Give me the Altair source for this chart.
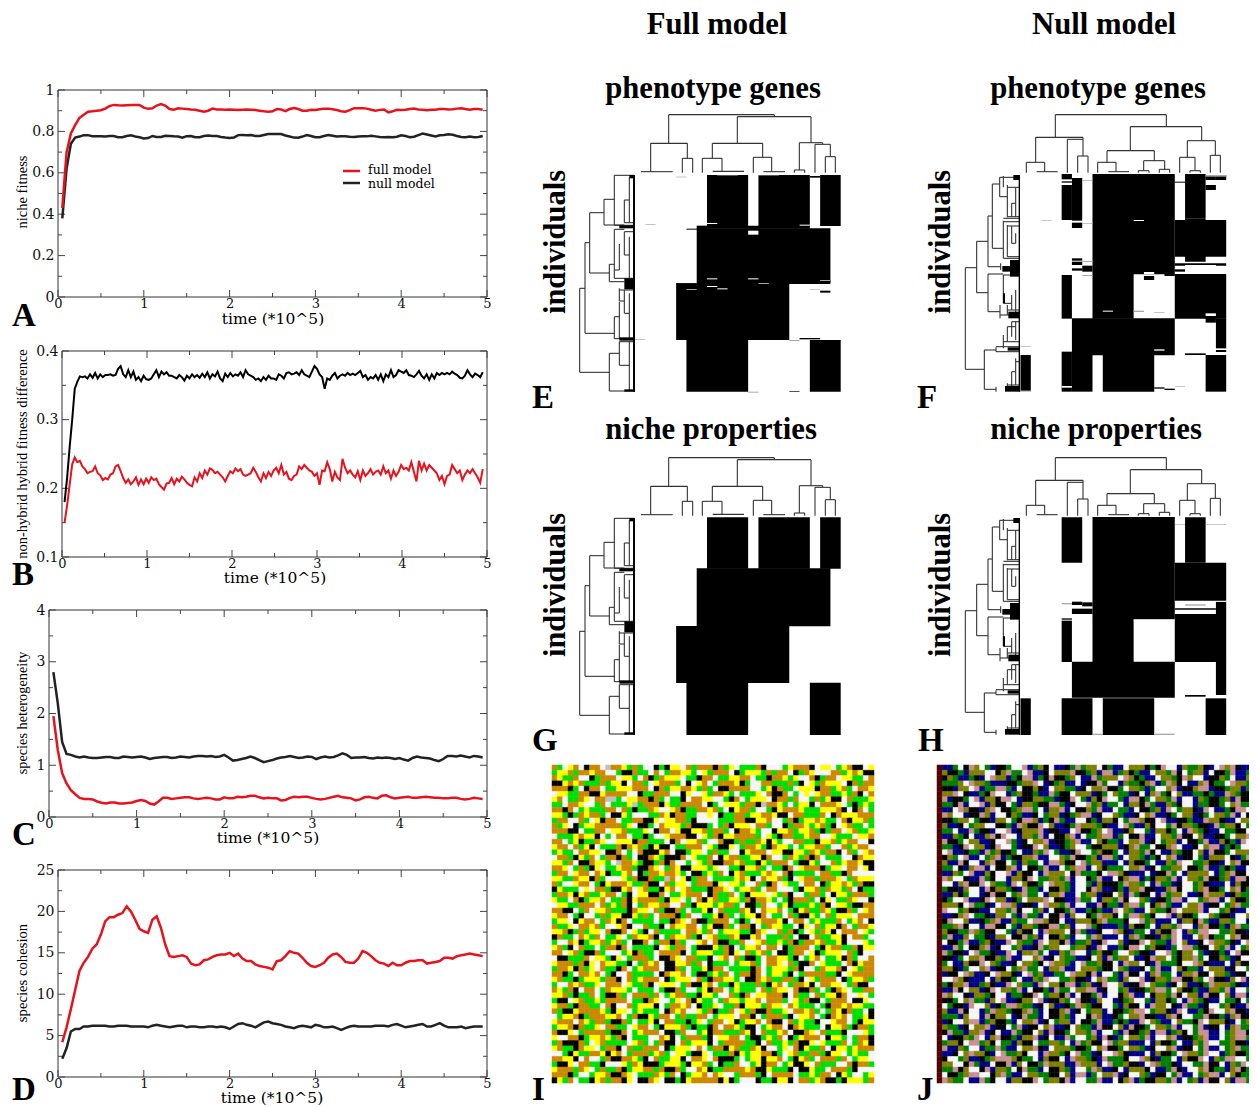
import altair as alt
import pandas as pd

W, H = 1241, 1099
SERIF = "Liberation Serif"
AXF = "DejaVu Serif"
RED = "#e8121c"
BLK = "#222222"

# ---------- time series ----------
A_full = [.43,.70,.79,.83,.865,.88,.895,.897,.90,.902,.91,.922,.928,.926,.925,.926,.927,.928,.928,.915,.909,.912,.925,.932,.925,.908,.905,.912,.91,.908,.906,.905,.90,.895,.90,.91,.906,.906,.905,.906,.905,.903,.905,.906,.905,.903,.90,.897,.895,.897,.908,.906,.898,.908,.913,.908,.90,.90,.905,.903,.907,.91,.91,.907,.903,.897,.895,.903,.912,.912,.912,.91,.905,.90,.904,.906,.892,.897,.904,.903,.905,.908,.91,.906,.905,.902,.905,.905,.908,.908,.906,.907,.91,.912,.908,.905,.908,.908,.905]
A_null = [.38,.62,.74,.77,.775,.782,.782,.777,.776,.777,.775,.778,.778,.772,.772,.778,.781,.775,.772,.766,.768,.778,.773,.773,.779,.778,.776,.775,.77,.777,.778,.772,.772,.778,.78,.778,.778,.773,.77,.768,.77,.782,.783,.782,.783,.778,.778,.783,.787,.788,.788,.787,.78,.775,.77,.769,.775,.782,.778,.772,.772,.778,.783,.779,.775,.777,.776,.774,.773,.775,.777,.776,.779,.776,.773,.772,.773,.772,.774,.781,.778,.772,.774,.782,.79,.785,.78,.775,.781,.783,.786,.784,.778,.773,.772,.775,.772,.773,.778]
B_null = [.18,.215,.26,.30,.345,.355,.363,.362,.363,.36,.366,.361,.368,.36,.366,.362,.365,.365,.366,.364,.365,.374,.378,.366,.362,.372,.362,.37,.358,.362,.356,.364,.359,.358,.36,.366,.372,.362,.37,.366,.369,.364,.364,.362,.36,.365,.362,.357,.364,.36,.366,.362,.365,.361,.367,.362,.369,.36,.366,.363,.37,.36,.356,.367,.362,.368,.363,.366,.364,.369,.362,.372,.366,.364,.362,.358,.36,.356,.362,.358,.364,.36,.36,.358,.366,.364,.36,.368,.369,.366,.367,.369,.365,.372,.366,.364,.362,.37,.378,.374,.366,.362,.345,.36,.358,.364,.368,.36,.364,.366,.364,.368,.365,.367,.365,.368,.371,.362,.365,.358,.362,.36,.365,.358,.366,.356,.366,.362,.372,.362,.365,.372,.37,.368,.372,.365,.364,.362,.366,.371,.364,.36,.366,.358,.366,.36,.368,.365,.368,.366,.368,.366,.37,.367,.365,.361,.36,.364,.372,.366,.362,.367,.365,.362,.369]
B_full = [.15,.175,.205,.235,.245,.238,.24,.232,.228,.222,.224,.225,.232,.222,.219,.212,.215,.213,.22,.222,.232,.234,.225,.215,.208,.213,.206,.21,.216,.205,.213,.206,.214,.208,.216,.212,.214,.206,.202,.198,.207,.208,.215,.206,.214,.21,.217,.213,.208,.205,.203,.216,.21,.222,.215,.226,.22,.229,.227,.222,.224,.22,.216,.21,.218,.225,.222,.229,.225,.228,.22,.218,.22,.222,.23,.224,.216,.21,.222,.215,.224,.218,.226,.23,.222,.234,.22,.224,.214,.212,.218,.22,.232,.228,.234,.23,.226,.224,.218,.222,.205,.226,.225,.238,.228,.21,.224,.216,.212,.243,.23,.222,.226,.22,.216,.225,.212,.226,.218,.222,.228,.22,.224,.226,.22,.232,.222,.226,.214,.226,.218,.224,.234,.228,.23,.226,.238,.224,.21,.24,.226,.236,.226,.234,.23,.226,.222,.212,.218,.206,.218,.22,.234,.228,.222,.226,.212,.22,.226,.222,.228,.222,.216,.208,.228]
C_full = [1.95,1.3,.85,.65,.52,.44,.37,.35,.35,.34,.30,.275,.26,.28,.28,.26,.26,.27,.28,.31,.33,.31,.26,.24,.30,.37,.37,.35,.36,.37,.38,.38,.36,.35,.36,.37,.36,.34,.34,.38,.36,.36,.39,.38,.39,.41,.41,.38,.36,.37,.36,.36,.32,.33,.37,.39,.38,.39,.39,.37,.35,.34,.35,.37,.39,.41,.38,.37,.36,.32,.34,.38,.39,.37,.36,.41,.42,.38,.36,.37,.38,.39,.37,.37,.38,.39,.38,.37,.37,.36,.36,.37,.37,.35,.34,.35,.37,.36,.35]
C_null = [2.8,2.2,1.45,1.22,1.2,1.17,1.15,1.17,1.15,1.14,1.14,1.15,1.16,1.16,1.14,1.14,1.17,1.16,1.15,1.16,1.17,1.15,1.12,1.14,1.15,1.16,1.16,1.14,1.15,1.17,1.16,1.15,1.17,1.18,1.18,1.17,1.18,1.16,1.17,1.2,1.15,1.09,1.10,1.12,1.14,1.17,1.14,1.10,1.06,1.08,1.10,1.13,1.15,1.16,1.18,1.16,1.14,1.15,1.17,1.16,1.12,1.15,1.17,1.15,1.16,1.19,1.23,1.2,1.14,1.15,1.15,1.16,1.14,1.13,1.15,1.14,1.15,1.14,1.12,1.14,1.11,1.09,1.14,1.17,1.15,1.14,1.13,1.10,1.08,1.12,1.18,1.18,1.17,1.19,1.17,1.15,1.18,1.17,1.15]
D_full = [4.2,6.0,8.2,10.5,12.8,13.8,14.5,15.5,16.0,17.2,18.8,19.3,19.3,19.6,19.8,20.6,20.0,19.0,17.9,17.6,17.4,19.0,19.4,18.0,16.0,14.6,14.5,14.6,14.7,14.5,13.7,13.5,13.6,14.1,14.2,14.5,14.7,14.8,14.8,15.0,14.6,14.9,14.3,14.0,14.0,13.6,13.4,13.3,13.2,13.0,14.0,14.1,14.6,15.2,15.0,14.9,14.4,13.8,13.4,13.3,13.5,13.8,14.4,14.8,14.9,14.5,13.9,13.8,13.8,14.3,15.2,15.0,14.6,14.1,13.8,13.7,13.4,13.8,13.5,13.5,13.8,14.0,14.0,14.1,14.1,13.7,13.8,13.9,14.0,14.4,14.4,14.3,14.6,14.7,14.8,14.9,14.8,14.7,14.6]
D_null = [2.2,3.5,5.5,5.8,5.8,6.1,6.1,6.2,6.2,6.2,6.2,6.1,6.1,6.2,6.2,6.2,6.1,6.1,6.1,6.1,6.0,6.2,6.3,6.2,6.1,6.0,6.1,6.2,6.2,6.0,6.1,6.1,6.0,6.0,6.1,6.1,6.0,6.1,6.0,5.8,6.1,6.4,6.5,6.3,6.2,6.0,6.3,6.6,6.7,6.5,6.4,6.3,6.1,6.0,5.9,6.1,6.2,6.1,6.0,6.3,6.2,6.0,6.0,6.1,5.9,5.7,5.9,6.1,6.2,6.1,6.1,6.1,6.1,6.2,6.2,6.2,6.1,6.3,6.4,6.2,6.0,6.1,6.2,6.3,6.4,6.1,6.1,6.3,6.5,6.2,6.0,6.0,6.0,6.1,5.9,6.0,6.1,6.1,6.1]
STEP_05 = [round(.05 * (i + 1), 3) for i in range(99)]
STEP_03 = [round(.03 * (i + 1), 3) for i in range(165)]

# ---------- dendrograms: (pos, from, to) ----------
EG_top_h = [(44,416,733),(50,622,843),(130,362,472),(175,457,488),(215,333,428),(130,547,698),(175,517,576),(214,548,642),(172,670,725),(215,700,765),(128,808,878),(133,855,901),(170,886,916),(210,793,824)]
EG_top_v = [(416,44,130),(733,44,50),(622,50,130),(843,50,128),(362,130,215),(472,130,175),(457,175,218),(488,175,218),(547,130,175),(698,130,172),(517,175,218),(576,175,213),(670,172,218),(725,172,215),(808,128,210),(878,128,133),(855,133,218),(901,133,170),(886,170,218),(916,170,218),(793,210,218),(824,210,218)]
EG_left_h = [(565,149,165),(817,149,238),(428,165,179),(700,165,253),(338,179,222),(519,179,238),(298,222,253),(375,222,283),(226,253,313),(376,253,313),(300,283,298),(368,283,313),(493,238,253),(545,238,283),(388,253,283),(535,253,313),(395,283,313),(465,283,298),(510,253,268),(603,268,283),(570,268,313),(640,283,298),(650,253,268),(716,253,313),(760,238,268),(873,238,313),(725,268,313),(796,268,298)]
EG_left_v = [(149,565,817),(165,428,700),(179,338,519),(222,298,375),(253,226,376),(283,300,368),(298,232,368),(238,493,545),(253,388,535),(268,432,510),(283,395,465),(298,410,535),(268,565,603),(283,570,640),(298,580,715),(253,650,716),(268,605,716),(238,760,873),(268,725,796),(298,725,870)]
EG_blob = [(283,535,315,568),(268,712,315,722),(268,376,315,385),(298,225,315,235),(309,225,315,875),(283,868,315,875)]
FH_top_h = [(44,421,754),(80,646,860),(112,362,504),(118,457,504),(168,488,519),(187,334,389),(215,365,428),(152,576,718),(187,548,603),(215,580,642),(182,686,749),(212,670,702),(208,733,764),(122,817,901),(172,794,840),(212,825,856),(166,886,916)]
FH_top_v = [(421,44,112),(754,44,80),(646,80,152),(860,80,122),(362,112,187),(457,118,218),(504,112,168),(488,168,218),(519,168,218),(334,187,218),(389,187,215),(576,152,187),(718,152,182),(548,187,218),(603,187,215),(686,182,212),(749,182,208),(670,212,218),(702,212,218),(733,208,218),(764,208,218),(817,122,172),(901,122,166),(794,172,218),(840,172,212),(825,212,218),(856,212,218),(886,166,218),(916,166,218)]
FH_left_h = [(503,151,185),(808,151,208),(424,185,219),(578,185,219),(348,219,232),(500,219,257),(252,232,254),(445,232,265),(522,219,265),(635,219,255),(750,208,243),(868,208,243),(232,254,315),(290,254,277),(262,277,315),(310,290,302),(350,277,315),(355,265,315),(365,265,315),(378,277,315),(430,290,302),(475,265,315),(470,277,315),(525,265,315),(610,265,290),(630,277,315),(645,255,315),(665,290,315),(680,277,302),(725,265,315),(740,243,315),(755,243,315),(785,302,315),(815,290,302),(855,277,315)]
FH_left_v = [(151,503,808),(185,424,578),(219,348,500),(232,252,445),(219,522,635),(208,750,868),(254,232,290),(265,228,262),(277,255,352),(290,310,350),(302,262,350),(265,362,475),(290,378,430),(302,400,430),(277,375,470),(257,490,510),(265,525,610),(290,585,630),(302,570,640),(277,615,645),(255,615,655),(290,665,710),(302,665,720),(277,680,725),(265,705,745),(243,742,755),(302,775,855),(290,815,860),(277,850,870),(243,860,875)]
FH_blob = [(295,225,315,240),(285,480,315,530),(262,498,315,515),(280,635,315,655),(278,742,315,752),(270,858,315,875),(264,580,270,610),(311,225,315,875)]

# ---------- binary matrices: (row0, row1, col0, col1) ----------
E_black = [(225,378,7,11),(225,378,12,17),(225,378,18,20),(385,552,6,19),(377,390,6,7),(377,386,7,17),(550,720,4,15),(719,875,5,11),(720,875,17,20),(228,233,17,18),(386,389,5,6),(572,578,18,19),(540,546,16,19),(714,718,16,18),(873,875,15,16),(550,553,4,6)]
E_white = [(369,372,7,8),(374,377,16,17),(392,404,11,12),(535,538,7,8),(535,538,11,12),(550,552,12,13),(558,561,7,8),(565,568,8,9),(568,570,5,6),(223,226,8,10),(222,226,12,14)]
E_grey = [(875,878,11,12),(718,720,0,1),(230,232,4,5),(373,375,1,2),(720,723,15,16),(540,543,18,19),(568,570,17,18)]
F_black = [(222,238,4,5),(244,248,4,5),(255,360,4,5),(234,362,5,6),(222,523,7,15),(522,656,7,11),(245,248,15,16),(222,355,16,18),(225,240,19,20),(228,240,18,19),(255,270,18,19),(360,470,15,20),(355,485,16,18),(368,384,5,6),(475,482,5,6),(485,495,5,6),(497,515,6,7),(505,512,5,6),(490,497,15,20),(508,515,15,16),(522,656,15,20),(525,656,4,5),(528,540,12,13),(522,528,14,15),(655,766,5,15),(655,745,19,20),(750,756,19,20),(640,668,18,19),(765,875,0,1),(755,875,4,5),(765,875,5,7),(765,875,8,13),(765,875,18,20),(862,866,13,14),(866,870,14,15),(760,765,16,18),(852,855,11,12)]
F_white = [(250,253,4,5),(858,863,4,5),(360,363,11,12),(632,635,8,9),(640,648,18,19),(748,752,13,14),(516,522,12,13),(872,875,0,1),(495,498,16,19)]
F_grey = [(360,362,2,3),(738,740,0,1),(240,242,6,7),(370,372,6,7),(483,486,6,7),(525,528,6,7),(632,636,11,12),(636,638,13,14),(858,860,15,16),(225,230,18,20)]
G_black = [(223,377,7,11),(223,377,12,17),(223,377,18,20),(376,550,6,19),(549,720,4,15),(719,876,5,11),(719,876,17,20)]
H_black = [(223,359,4,6),(222,529,7,15),(528,657,7,11),(223,359,16,18),(359,473,15,20),(476,486,5,6),(478,490,6,7),(497,513,5,7),(476,513,19,20),(496,500,15,19),(513,657,15,20),(533,657,4,5),(526,530,4,5),(656,764,5,15),(656,756,19,20),(766,876,0,1),(766,876,4,7),(766,876,8,13),(766,876,18,20),(756,761,16,18)]
H_white = [(474,476,15,20),(530,533,11,15)]
H_grey = [(244,246,15,16),(244,246,18,20),(480,484,4,5),(872,876,7,8),(872,876,13,15),(484,488,16,18)]

# ---------- colour grids ----------
I_rows = """
ogwyo wkoow sooyg ogwwk gkyyw ogooo kogyw gggok wwwgy oookw yywgy okkwy
gyyog ooyoo wwgkk oggwo wgooy ygwyg ooowk gyyyg ogoow kgoyw wwoog yoykk
oyggo wwkgo oowyy gwokg oyyyw ggkoo wggyy oowgg kooyg ywwok goowy yggwo
kkyoy ogggo gyykw oogwy ooogw kwyow goooy kgwwo ogggo gkwyg oyyyw kogoo
oookg wkoow ggyyy ooowk ogyyo oygog wkkoo oowwg ykogg wyyyk oogyo gwooy
wyygg ookky oooow wkggo oowwk ywwyg ooygw gggyw okkow gwywy ooggy gokwo
yowgg oywoo ssgwy yooko gwggk wooyy wwgko wgyyy wkoog owwgo gykkw ogggy
ggwoo ywwgo wgggy sgooo kyggo ooowk gwyyy gooks ooygw gyykw oooyw gkgyg
ookow gyggg oowog kggoy wwyok ggooy ogwky oogww gkyoo oyggg yyyok wkowg
yygkg oyoog wkkyg wwwgg oykoo ggwwy wkggo ogyyo oykkw ooggg owkoy yyooo
gooww ogwyk oowgg ookky wyyoo gkwww wgggo okkyy owwgo kgyyo yggwo kyyog
ogywk gyyoo ooogy wkkgw oyyyg okkkg wgoky yywoo gwwkg ooygy ogkwy oggwg
oookk wggoo wyyog ggywk oowyk kyyog oogwk ooygw wkyyo gyyog kgoow yoggy
wgggy oyykw gwoow ggkgw wyooo kkwyg okyyo ooogw ygkoo ggyoo wwygg gwyyo
oowgy kggoy wwyyy koogg gwkow yyogw wokkg oggoy kygww ooggk yyogy oowwk
yoowo gykwg ggoko yogky kkwgg ooowy gkkyw gooyg koyyg wgyyo ogwwo gyoow
gyggw ooyyw kkowg wokkk yowkk gyywg oggww kyooo wyykk yygoy gookw ogwyo
woogk ygowg ookog wkkoy gkkko wyggo wkyoo ggyyk owwgo ygoko wgggw wkoyy
yygow kkoyy gwsoo ygkkg okoww gwygo kkooy oggky gooow gkkyg wwogy ooykk
ooywg ogkyw ggyoo gkkoy wgoyk kyyyg ywwgg kyyog wggko wyooo kgyyw oowyk
goowy oowoy kggyo wkgoo yooyg wkkgy gowky ogggy oywok ggggw ooggk owwww
yyggo yykog wwwyg okkog gsowy kgoow ggggy oykwo yyogk wyoog oooyw goyyy
ogwwy oowgk yoooy ggokk wogyy wgooo kywyy gwwog kowyg gwoow kgyyo ygokk
kyggg wywoo gkkyo wyogg kyowy ogggk ooywg yyogw oowww gkyyo goyyg owkgg
gooyk yoggy oowgk wyykk owggy ooowk oggow gkyyy wygok wwgoo gwkyy gooog
yggwo kgyyo wggok yoooo gkyyw gwoky oggyy gokoo ygwgk ooogw kywgg oywwk
wyygg ooowo gygok wgoyy oowwo gkyyy gyoog wkkgo wwgyk gggyg okwyy gkkoo
ookkw gowyy ogggk oyywo gkkog wggyk woggg oykwo yyowg kyogg oygkk ogwyo
yoowg kwwgo gyykk ygogw oookg owwgg ykogw gyyko wggwo gkkyg wogyy ywooo
gyywk yoowg oykow ggggw ggkoy wokkg ooowg kgwyo ooykw oowgy gggow gyowk
oggyw ooyog wwyok wwogg kwoyy oowgy kkogw ookwg oyygg wkywo gyyko wgooy
yyokg ogyyw okkow ygkwo ggggw ooygo wgyyy ggkoy wwogo kgwyg oykwo oowyg
koggw oygow ggywg oyyok wgoyy ogkwy oggoy kkyow gggog wkkwo ggyyk woogw
gwwoy kgyyo gyogw kkowg ookog wwyow okkgg owwyo ggygo kgooy oggyk wwwyg
yogkw oggwg ookow ggggk wygoo wgkkk ygokw gyyow oowkg ooowg kyoog gokyy
oowyo gkkog wwwgy koggw ooook wgyyy ggoky wogyo gwkkg oowyk gyyyw ogkww
wkkgg gowyy gkywg ooogw kkoyw ooggk wyowo gkkgw ooyyg kwgyo wggyk ogwwo
yooog okywo yyggk wgoyo wkkyy ogowk gggwg yyogw ooywo gkkow ygggw okyoo
gooyk ogywo ggkow gyooo wkkog wggyk oowgg ggkow gyyyg okwwg oyyok wygoo
ookgw ooyow gkwwo ggggw koyyo wgkkg ygowg ookow gyygk wgooo oggkw yoooo
yoggk gyyyg ookwo gyooo wkgyy ywogk ooyyg wkkoy oggoo gkwyg ooowk gyyog
gwwoy oggyw ooowy ggokw yyywg okkyo wggky gggog kyowg ooykw ooyyw gokkw
oygok woowg oyyyg wgggw gkkog wwgyk oowgy gggwo goyyw okkog wgkoy wggoo
yyogk ggowg kkogw ooogo wgyoo ggkyy gwwog kowyy oookw oggwo gyyko wwywg
gkkwy oggyg oooow ggkoy wwgyw okygg wgoyy gyyow ooogw ygokk wgooo wkkyw
yoogk ooggw okwwo gyyyk wgooy owkgg ywggo kyyyg oyywo ygggw gkooy oyygg
ogkky ooooy gkyyw gyggg wkoyo wwygo kggow ygokk oggyw ooyog wgoyk oggwk
wgyyo kgooo yyowg okkyg oowgo ggoow gyyyw ookwg ooogk wyyow gkoyo wggyk
yooow oygoo gkkog wggyk woogg kgywg oowyk gyyow okkwo gyggk wwyoo wgkyy
gyyok oggyw ooggw yoowg kyyyo gkggk owooy gkkwg yoowk oyggg wkyyo gkoog
okkyw goooo gkkow gyooo wkkgo wwgyk ooggg oykwo ggyow kkoyw ogggk wwwyg
ywwoo kgyyo ygokw gggww oykwg ooogk wyyoo wgkkg ygowk gyooo wkyyg wgook
gokkk ogwyo ggggw yogwg okkwo gyyyk wgooo oggkw oggyg okkyw ygggo wgoyk
yoggk oyywg ookwo ggooo wkgyy ywowg ookyo ggoyk wwgyw okygg owkyy gyooo
wwgky ggooy kyowg ooogy ogwyy gkkyw gggok ygyyo okgwy oggoo gkyyw gyggw
ooyyk wowwg okkoo ygkwo ggyyk wooyw okkkg wgyyk yyowg kyogw ooogo wgyyw
gkkyw ooggk wwwyg oykkk gyyyg kyyog wkggo wwgyk oowgy kkywo gggww okoog
yooog oywgo ggokg yyoog okkog wwoyk ggooo oyokk ygggk wkkyg gwooo gkwww
oookg wwgyy okkoy wgggo ygowk gyyow oywwg ooogk woooo wggyg oowky gwwgy
kygow ggkyo gooky wkkoy wkkgk yoooo okykg wwwkg gkyyk woogy okkgk yyygo
""".split("\n")
J_rows = """
nngwk powgn kkgww pngok wnnkg pgoow kgnnw oookg kpwwn oggok nwpop knnw
okkgn oooww kopgg wpnnk wooop kkgon ppngo kgnnw oogpk wgoon wkkgp nngk
kognn gknwp oongk ppngk pkkgo wnnpg ooowp okgnn woogk powwn kkogw nnog
gggow poogn nnkkg oopwn kgonn wnkkp gwwno ggkop ngpok wnnop kggwp oogn
kknoo wpngg ppgnw kkokn woogg nkwoo pkkgw oogng wwopn kkopp nkkgo ongw
oopwk nngkp wwngo kkgnn pgkkw ooonk gwogg nkwno pgkwo nnggk gnnpo gkkn
pnkkg wpnoo kppwn kkoog gnkkp wgnok pwwgn ppkgw oogpn wwnog kkgon pkkg
ggkpn wwpno kkwgn oogkk ppgnk wwpgo nggwn ookpg nnogk wwngg kkgwo pggn
nnwpo kknop wkkgo ppgwn oopnw kkogp nnwgg nwkkg onpwg ooknp wnngk ppwo
powwn kkpon wwkog nnkwg oonkg oppnk wwogn nkwop nnkgw oonkg woogp nwkg
kkgoo wgkkn oowgk ppong kpgnn wwkgn ookwg ppokk wpnnk kgnnp ooknn woog
onnkw gooww kkgnp okkpw onnkg pooog knnwp gnnok wwgpk oogkk npgoo kwgp
ggwnn pgkkn wwpnk ooopn kknnw pkkgo wpnnk owwgn ookgw npogk nnwgg kkwo
nnogk wnnop kpwwn oogpn wkkop nwggo ppngw kkpnn woogp kkwon nkkgw oopn
pkkgw oonnk wwpgn kwoop nkkgo pnnwo kggnw oopnk wgoon wkkgp nnokg npww
ggnkp woonk pwwgn kkpwo nnkgo wwgkk ooonk opggw kkopw nnkwo ppngk gwwn
wpnnk ggnpg okkgw nnogp wgnnk pwwgo kkgwn oogpk wnnog kkwon pkkgw ooon
kogwp nnwgo pngkk oopnn wwogp kkgon ppgnw oogng kwopn kkwgn ooowk ngpn
onnpk wwnop kkwgn oggwn ppokk wpgoo nnnwn okkgw nnogp wwggo kknwo pkkn
ggwkn oppnw kkopn wkkgp nnwgo ppnwo kgggw oopnk wggoo wkkgp nngkg nnwo
nnogw pnnok wwpno kkwnp ooowk pgggk wppok nnnwn kkpgw noooo wngop kkww
powwk nnpgk wwnoo kpwgg oogpn wwkgp nnwko ppngk oogpn woogp kkgon ppkg
wwnop kkpwo ggnpw okkgw poogn wwgno kkkgp oogwn pggnk wwgok nnnwn okkg
gkkno wwnpk oogkn pggnw kkogn wwkpo nnkgn oopkk nnopk wwgop kkgwo pkgg
nnokg wwnkp kkwgo pggwn oopnn wgoon kkwon pgkkw npgoo wnnkp ooonk oggn
kgwwp nnkpw oonkg wooop wkknn pggwn oogpk wwogn kkgpp nwwgo ppnwo kkgn
oookw pggkn wppon kknwp oogpn wwnnp kggno ppgwk opgnn woopn kkwgo pggw
pwwgo kknnw oogpk wwgon wkkgp nngkg nnpwo gnnwo ggkpw ooopn wwgok nnwg
nnkop wggkn oowgn pggnw kkpno wwkgp ookwg ppogk wwpno kkgww ogkkn wwog
kpwwo nnkgo pnnog gwppo kkwnn oooko pgggk wwpgo nnnwn ookpg nnoog wwng
ggopk wwnpp kkwgn oogkk ppgon wwpgk nnngn okkgw noogp wwnop kkgno pggn
okkgg pogkk wwgno kkwnp ooowk pgnnk wwpok nggwn okkpw nogpp wwggo kknw
gpnno wggkn oowkk pgonw kkogn wwgpo nnnwn opgkk nogpw nnwop kggwo pkkn
wkkgp nngok nnpwo ggnpw ookpn ggonk pwwon kkpwo ggnpw onnkw poogk nwpg
nnpgw kkopn kwwgo nnkpg oowwg ooknp wnngk ppwgo kkngw ppgkk wogpn wgoo
pgkkn wpggk nnpwn oopgw nnogp wwngo kkgww ogkkn wwpgk oowgn kkgnw pkkg
kkngw oopkk ogpnn wwopn kwogg nnkwo npgoo wnnkp oowgk oopgw kkogn kwwo
gwnno kkpwo gnnkw oogkw poogn wpggo kkwnp oowkn pgggk wwpok nnnwn okkg
ookng wwopn kkwgo pggwn oopnn wooog kkwog nnkwg pnnwo kggnw ooonk wwgp
nkkwp onnkw pookn wpgon nggwp ookpn wwgnp kkwno pggwn oopkk woogn kkwg
wwpok nnnwn okkgw nnogp wwggo kknwo pggno wwpnk oogpp kkogw pkkno wpng
gkoop nngok nnpwo ggnpw ookpp ngonk pwwon kkpwo ggnkw onnkg pooog knnw
nnpkw oonkp woogp nwkkg npggw ooppn kwwgo nkkgo ppgwo kkgnn oogpn wwgo
powwk noogk wwngg kkpwg ookpn wkkgp nwwko pnnwk oogpk woonp kkwon ppng
kkgwo pggno wpnnk oowpn kkogw pkkno wwnkg owwgn ookgw npogk nnwgg kwgp
wgkkn pwwon kgppo ggnkw onnkg pogkk wwgno kkwnp oowkn pggnk wwgok nnpw
onnpk wwngp oogkk opgnw kkopn kwgoo nwkkg oppwg ooknp wnngk pwwop kkng
gggno wwnpk oownk pggnw kkogn wwkpo nnkgw oopkk nnopk wwggp kkgno pkkn
nkwwo ppngo kkgnw oopnk wgoon wkkgp nngkg nnpwo gnnwo ggkpw oookn wgoo
oggnk woopn kkwgp nkkwo pnnkw oggnp kkwon pkkgw oogpn wwgpn kkwno pggn
kpggn oopnk wnnpg kkwon pkkgw oogpn wwgnp kkgon ppngo kwgpp nnwgo ppkw
wnkko gpwno pkkgn oopnk wnnpg wwgon pkngw oogpn wwopn kkgop nnwgo ppgw
gookw ppgok wggno kkwgg oogwn pgokk wpgoo nnnwn okkgw nnogp wwggo kknw
pnnog wwngg pgnnw oopkn wooog kkgwo pkkgw oognk wwopn kkwgp nnwgo pggw
nnkwo pookn wpggo kwwnp oogkw pggnk wwpok nnnwn okkgw poogp wwngo kkgw
kwwgo nnkgo pppok ggwno kkwnp oogkn pgggk wwpok nggwn okkpw nogpp wwgo
oowwk pgnnw kkpno wkkgp ooonn pooon wpggo kknwp oggkn wwggp kkwno gpww
ggpko wwkpn oogwk pggnw kkogn wwgpo nnkwn oookw nngpk nwwop kggno pkgg
wkkgo ppwwk opgnn woogg kkwon ppngw oopnk wwogn kkwgp nnwgo ppnwo kggp
poggw nnpgk wwnoo kkpwg ookpn wwggp nnwko pngkk oogpn wgonp kkwon ppgg
""".split("\n")
I_colors = {"y": "#ffff00", "g": "#00e000", "o": "#cc8800", "w": "#f6f6f6", "k": "#000000", "s": "#c0c0c0"}
J_colors = {"n": "#000088", "g": "#008000", "o": "#808000", "p": "#c89090", "w": "#f6f6f6", "k": "#000000", "r": "#500000"}

one = pd.DataFrame({"a": [0]})
layers = []


def P(v):
    return v - 8


def text(s, x, y, size, font=SERIF, weight="normal", angle=0, align="center", baseline="alphabetic", color="black"):
    layers.append(
        alt.Chart(one).mark_text(text=s, font=font, fontSize=size, fontWeight=weight, angle=angle,
                                 align=align, baseline=baseline, color=color)
        .encode(x=alt.value(P(x)), y=alt.value(P(y)))
    )


def lin(dom, rng):
    return alt.Scale(domain=list(dom), range=[P(r) for r in rng], nice=False, zero=False)


def ticks(xs, ys, xv, yv, x0, x1, y0, y1, ln):
    bx = pd.DataFrame({"v": xv})
    by = pd.DataFrame({"v": yv})
    for a, b in [(y1, y1 - ln), (y0, y0 + ln)]:
        layers.append(alt.Chart(bx).mark_rule(color="#444", strokeWidth=1).encode(
            x=alt.X("v:Q", scale=xs, axis=None), y=alt.value(P(a)), y2=alt.value(P(b))))
    for a, b in [(x0, x0 + ln), (x1, x1 - ln)]:
        layers.append(alt.Chart(by).mark_rule(color="#444", strokeWidth=1).encode(
            y=alt.Y("v:Q", scale=ys, axis=None), x=alt.value(P(a)), x2=alt.value(P(b))))


def panel(x0, x1, y0, y1, ydom, ymaj, ymin, series, width):
    xs = lin((0, 5), (x0, x1))
    ys = lin(ydom, (y1, y0))
    frame = pd.DataFrame({"x": [0], "x2": [5], "y": [ydom[0]], "y2": [ydom[1]]})
    layers.append(alt.Chart(frame).mark_rect(fillOpacity=0, stroke="#333", strokeWidth=1).encode(
        x=alt.X("x:Q", scale=xs, axis=alt.Axis(orient="bottom", values=[0, 1, 2, 3, 4, 5], format="~g", title=None, grid=False,
                                               ticks=False, domain=False, labelFont=AXF, labelFontSize=13,
                                               labelColor="#111", labelPadding=0, labelOverlap=False,
                                               labelFlush=False, offset=P(y1) - H)),
        x2="x2:Q",
        y=alt.Y("y:Q", scale=ys, axis=alt.Axis(orient="left", values=ymaj, format="~g", title=None, grid=False,
                                               ticks=False, domain=False, labelFont=AXF, labelFontSize=14,
                                               labelColor="#111", labelPadding=4, labelOverlap=False,
                                               labelFlush=False, offset=-P(x0))),
        y2="y2:Q"))
    ticks(xs, ys, [0, 1, 2, 3, 4, 5], ymaj, x0, x1, y0, y1, 7)
    ticks(xs, ys, [.5, 1.5, 2.5, 3.5, 4.5], ymin, x0, x1, y0, y1, 4)
    for t, v, c in series:
        d = pd.DataFrame({"t": t, "v": v})
        layers.append(alt.Chart(d).mark_line(color=c, strokeWidth=width, clip=False).encode(
            x=alt.X("t:Q", scale=xs, axis=None), y=alt.Y("v:Q", scale=ys, axis=None)))


panel(58, 487, 90, 297, (0, 1), [0, .2, .4, .6, .8, 1], [.1, .3, .5, .7, .9],
      [(STEP_05, A_null, BLK), (STEP_05, A_full, RED)], 2.5)
panel(62, 487, 351, 557, (.1, .4), [.1, .2, .3, .4], [.15, .25, .35],
      [(STEP_03, B_null, "#000000"), (STEP_03, B_full, RED)], 2)
panel(49, 487, 610, 817, (0, 4), [0, 1, 2, 3, 4], [.5, 1.5, 2.5, 3.5],
      [(STEP_05, C_null, BLK), (STEP_05, C_full, RED)], 2.5)
panel(58, 487, 870, 1077, (0, 25), [0, 5, 10, 15, 20, 25], [2.5, 7.5, 12.5, 17.5, 22.5],
      [(STEP_05, D_null, BLK), (STEP_05, D_full, RED)], 2.5)

# legend of panel A
layers.append(alt.Chart(one).mark_rule(color=RED, strokeWidth=2.5).encode(
    x=alt.value(P(343)), x2=alt.value(P(360)), y=alt.value(P(171))))
layers.append(alt.Chart(one).mark_rule(color=BLK, strokeWidth=2.5).encode(
    x=alt.value(P(343)), x2=alt.value(P(360)), y=alt.value(P(183))))
text("full model", 368, 170, 12.5, font=AXF, align="left", baseline="middle")
text("null model", 368, 184, 12.5, font=AXF, align="left", baseline="middle")

for s, x, y in [("time (*10^5)", 273, 319), ("time (*10^5)", 275, 578), ("time (*10^5)", 268, 838), ("time (*10^5)", 272, 1098)]:
    text(s, x, y, 15.5, font=AXF, baseline="middle")
for s, y, sz in [("niche fitness", 192, 14.5), ("non-hybrid hybrid fitness difference", 454, 14.5),
                 ("species heterogeneity", 713, 14.3), ("species cohesion", 973, 14.7)]:
    text(s, 27, y, sz, angle=270)

for s, x, y in [("A", 12, 326), ("B", 12, 585), ("C", 12, 845), ("D", 12, 1100), ("E", 532, 408), ("F", 917, 408),
                ("G", 532, 751), ("H", 918, 751), ("I", 532, 1100), ("J", 917, 1100)]:
    text(s, x, y, 33, weight="bold", align="left")

text("Full model", 717, 34, 30.7, weight="bold")
text("Null model", 1104, 34, 30.7, weight="bold")
for s, x, y in [("phenotype genes", 713, 98), ("phenotype genes", 1098, 98), ("niche properties", 711, 439), ("niche properties", 1096, 439)]:
    text(s, x, y, 30.7, weight="bold")
for x, y in [(565, 242), (950, 242), (565, 585), (950, 585)]:
    text("individuals", x, y, 30.5, weight="bold", angle=270)


def heat(ox, oy, col0, black, white, grey, top_h, top_v, left_h, left_v, blob):
    cs = lin((0, 20), (col0, col0 + 205.7))
    xs = lin((0, 990), (ox, ox + 330))
    ys = lin((0, 930), (oy, oy + 310))
    for rects, colr in [(black, "#000000"), (white, "#ffffff"), (grey, "#a8a8a8")]:
        if not rects:
            continue
        d = pd.DataFrame(rects, columns=["r0", "r1", "c0", "c1"])
        layers.append(alt.Chart(d).mark_rect(color=colr).encode(
            x=alt.X("c0:Q", scale=cs, axis=None), x2="c1:Q",
            y=alt.Y("r0:Q", scale=ys, axis=None), y2="r1:Q"))
    for h, v in [(top_h, top_v), (left_h, left_v)]:
        dh = pd.DataFrame(h, columns=["p", "a", "b"])
        dv = pd.DataFrame(v, columns=["p", "a", "b"])
        layers.append(alt.Chart(dh).mark_rule(color="#333", strokeWidth=1.1).encode(
            x=alt.X("a:Q", scale=xs, axis=None), x2="b:Q", y=alt.Y("p:Q", scale=ys, axis=None)))
        layers.append(alt.Chart(dv).mark_rule(color="#333", strokeWidth=1.1).encode(
            y=alt.Y("a:Q", scale=ys, axis=None), y2="b:Q", x=alt.X("p:Q", scale=xs, axis=None)))
    d = pd.DataFrame(blob, columns=["a", "c", "b", "e"])
    layers.append(alt.Chart(d).mark_rect(color="#000000").encode(
        x=alt.X("a:Q", scale=xs, axis=None), x2="b:Q",
        y=alt.Y("c:Q", scale=ys, axis=None), y2="e:Q"))


heat(530, 100, 635, E_black, E_white, E_grey, EG_top_h, EG_top_v, EG_left_h, EG_left_v, EG_blob)
heat(915, 100, 1020.5, F_black, F_white, F_grey, FH_top_h, FH_top_v, FH_left_h, FH_left_v, FH_blob)
heat(530, 443, 635, G_black, [], [], EG_top_h, EG_top_v, EG_left_h, EG_left_v, EG_blob)
heat(915, 443, 1020.5, H_black, H_white, H_grey, FH_top_h, FH_top_v, FH_left_h, FH_left_v, FH_blob)


def grid(rows, colors, x0, x1, y0, y1, lead=""):
    rows = [lead + r.replace(" ", "") for r in rows if r.strip()]
    recs = []
    for ri, r in enumerate(rows):
        for ci, ch in enumerate(r[:60]):
            recs.append({"c": ci, "c2": ci + 1, "r": ri, "r2": ri + 1, "col": colors.get(ch, "#ffffff")})
    d = pd.DataFrame(recs)
    layers.append(alt.Chart(d).mark_rect(strokeWidth=0.5).encode(
        x=alt.X("c:Q", scale=lin((0, 60), (x0, x1)), axis=None), x2="c2:Q",
        y=alt.Y("r:Q", scale=lin((0, 60), (y0, y1)), axis=None), y2="r2:Q",
        color=alt.Color("col:N", scale=None, legend=None),
        stroke=alt.Stroke("col:N", scale=None, legend=None)))


grid(I_rows, I_colors, 552, 874, 765, 1083)
grid(J_rows, J_colors, 937, 1257, 765, 1083, lead="r")

chart = alt.layer(*layers).resolve_scale(x="independent", y="independent").properties(
    width=W, height=H, padding=0, autosize=alt.AutoSizeParams(type="none")
).configure_view(strokeWidth=0)

chart.save("out.html", embed_options={"renderer": "svg", "actions": False})
